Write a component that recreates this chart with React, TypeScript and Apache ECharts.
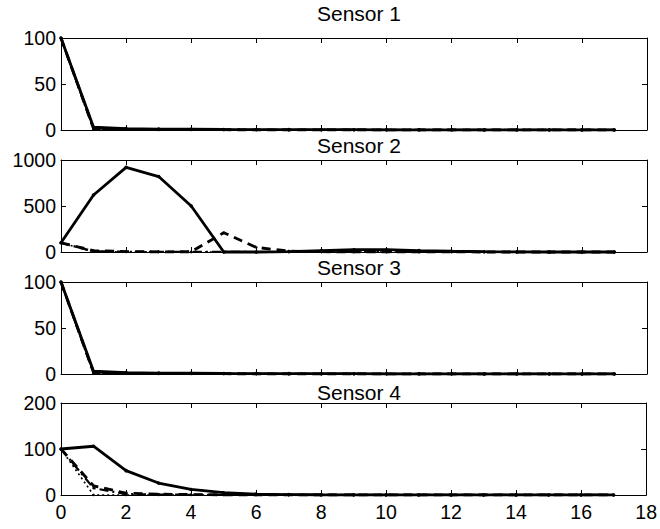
import React, { useEffect, useRef } from "react";
import * as echarts from "echarts";

const xValues = [0, 1, 2, 3, 4, 5, 6, 7, 8, 9, 10, 11, 12, 13, 14, 15, 16, 17];
const titles = ["Sensor 1", "Sensor 2", "Sensor 3", "Sensor 4"];
const yMax = [100, 1000, 100, 200];
const yInterval = [50, 500, 50, 100];

// Sensor 1
const s1Solid = [100, 3, 1.5, 1, 0.8, 0.6, 0.5, 0.4, 0.3, 0.3, 0.2, 0.2, 0.2, 0.1, 0.1, 0.1, 0.1, 0.1];
const s1Dashed = [100, 1.5, 0.8, 0.5, 0.4, 0.3, 0.2, 0.2, 0.1, 0.1, 0.1, 0.1, 0.1, 0.1, 0.1, 0.1, 0.1, 0.1];
const s1DashDot = [100, 1, 0.5, 0.3, 0.2, 0.2, 0.1, 0.1, 0.1, 0.1, 0.1, 0.1, 0.1, 0.1, 0.1, 0.1, 0.1, 0.1];
const s1Dotted = [100, 0.5, 0.2, 0.1, 0.1, 0.1, 0.1, 0.1, 0.1, 0.1, 0.1, 0.1, 0.1, 0.1, 0.1, 0.1, 0.1, 0.1];

// Sensor 2
const s2Solid = [100, 620, 920, 820, 500, 0, 0, 5, 15, 25, 25, 15, 8, 3, 1, 0, 0, 0];
const s2Dashed = [100, 15, 5, 2, 3, 210, 50, 10, 3, 2, 1, 1, 1, 0, 0, 0, 0, 0];
const s2DashDot = [100, 8, 3, 2, 1, 1, 0, 0, 0, 0, 0, 0, 0, 0, 0, 0, 0, 0];
const s2Dotted = [100, 2, 1, 1, 0, 0, 0, 0, 0, 0, 0, 0, 0, 0, 0, 0, 0, 0];

// Sensor 3
const s3Solid = [100, 3, 1.5, 1, 0.8, 0.6, 0.5, 0.4, 0.3, 0.3, 0.2, 0.2, 0.2, 0.1, 0.1, 0.1, 0.1, 0.1];
const s3Dashed = [100, 1.5, 0.8, 0.5, 0.4, 0.3, 0.2, 0.2, 0.1, 0.1, 0.1, 0.1, 0.1, 0.1, 0.1, 0.1, 0.1, 0.1];
const s3DashDot = [100, 1, 0.5, 0.3, 0.2, 0.2, 0.1, 0.1, 0.1, 0.1, 0.1, 0.1, 0.1, 0.1, 0.1, 0.1, 0.1, 0.1];
const s3Dotted = [100, 0.5, 0.2, 0.1, 0.1, 0.1, 0.1, 0.1, 0.1, 0.1, 0.1, 0.1, 0.1, 0.1, 0.1, 0.1, 0.1, 0.1];

// Sensor 4
const s4Solid = [100, 106, 53, 26, 12, 5, 2, 1, 0.5, 0.3, 0.2, 0.1, 0.1, 0.1, 0.1, 0.1, 0.1, 0.1];
const s4Dashed = [100, 20, 4, 2, 1, 0.5, 0.3, 0.2, 0.1, 0.1, 0.1, 0.1, 0.1, 0.1, 0.1, 0.1, 0.1, 0.1];
const s4DashDot = [100, 15, 2, 1, 0.5, 0.3, 0.2, 0.1, 0.1, 0.1, 0.1, 0.1, 0.1, 0.1, 0.1, 0.1, 0.1, 0.1];
const s4Dotted = [100, 0, 0, 0, 0, 0, 0, 0, 0, 0, 0, 0, 0, 0, 0, 0, 0, 0];

const sensors = [
  [s1Solid, s1Dashed, s1DashDot, s1Dotted],
  [s2Solid, s2Dashed, s2DashDot, s2Dotted],
  [s3Solid, s3Dashed, s3DashDot, s3Dotted],
  [s4Solid, s4Dashed, s4DashDot, s4Dotted],
];

const lineStyles: any[] = [
  { type: "solid", width: 2.8 },
  { type: [9, 6], width: 2.8 },
  { type: [9, 4, 2, 4], width: 2.2 },
  { type: [2, 3], width: 1.6 },
];

const gridTops = [38, 160, 282, 403];
const gridHeight = 92;
const titleCenters = [12, 144, 266, 391];
const FONT = "Liberation Sans";

export default function App() {
  const ref = useRef<HTMLDivElement>(null);
  useEffect(() => {
    if (!ref.current) return;
    const chart = echarts.init(ref.current, undefined, { renderer: "svg" });
    const grid: any[] = [];
    const xAxis: any[] = [];
    const yAxis: any[] = [];
    const series: any[] = [];
    const title: any[] = [];
    const axisLine = { show: true, onZero: false, lineStyle: { color: "#000", width: 1 } };
    const axisTick = { show: true, inside: true, length: 5, lineStyle: { color: "#000", width: 1 } };
    const label = { color: "#000", fontSize: 19.5, fontFamily: FONT };

    for (let g = 0; g < 4; g++) {
      grid.push({ left: 61, right: 13, top: gridTops[g], height: gridHeight, containLabel: false });
      title.push({
        text: titles[g],
        left: 354,
        textAlign: "center",
        top: titleCenters[g] - 14,
        textStyle: { color: "#000", fontSize: 21, fontWeight: "normal", fontFamily: FONT },
      });
      xAxis.push({
        type: "value",
        gridIndex: g,
        min: 0,
        max: 18,
        interval: 2,
        position: "bottom",
        axisLine,
        axisTick,
        splitLine: { show: false },
        axisLabel: { ...label, show: g === 3, margin: 7 },
      });
      xAxis.push({
        type: "value",
        gridIndex: g,
        min: 0,
        max: 18,
        interval: 2,
        position: "top",
        axisLine,
        axisTick,
        splitLine: { show: false },
        axisLabel: { show: false },
      });
      yAxis.push({
        type: "value",
        gridIndex: g,
        min: 0,
        max: yMax[g],
        interval: yInterval[g],
        position: "left",
        axisLine,
        axisTick,
        splitLine: { show: false },
        axisLabel: { ...label, margin: 5, formatter: (v: number) => String(v) },
      });
      yAxis.push({
        type: "value",
        gridIndex: g,
        min: 0,
        max: yMax[g],
        interval: yInterval[g],
        position: "right",
        axisLine,
        axisTick,
        splitLine: { show: false },
        axisLabel: { show: false },
      });
      const lines = sensors[g];
      for (let k = lines.length - 1; k >= 0; k--) {
        series.push({
          type: "line",
          xAxisIndex: g * 2,
          yAxisIndex: g * 2,
          data: xValues.map((x, i) => [x, lines[k][i]]),
          symbol: "circle",
          symbolSize: k === 0 ? 3.5 : 2.5,
          showSymbol: true,
          itemStyle: { color: "#000" },
          lineStyle: { color: "#000", ...lineStyles[k] },
          clip: false,
          silent: true,
        });
      }
    }

    chart.setOption({
      animation: false,
      backgroundColor: "#fff",
      title,
      grid,
      xAxis,
      yAxis,
      series,
    });
    return () => chart.dispose();
  }, []);
  return <div ref={ref} style={{ width: 660, height: 529, position: "absolute", left: 0, top: 0 }} />;
}
